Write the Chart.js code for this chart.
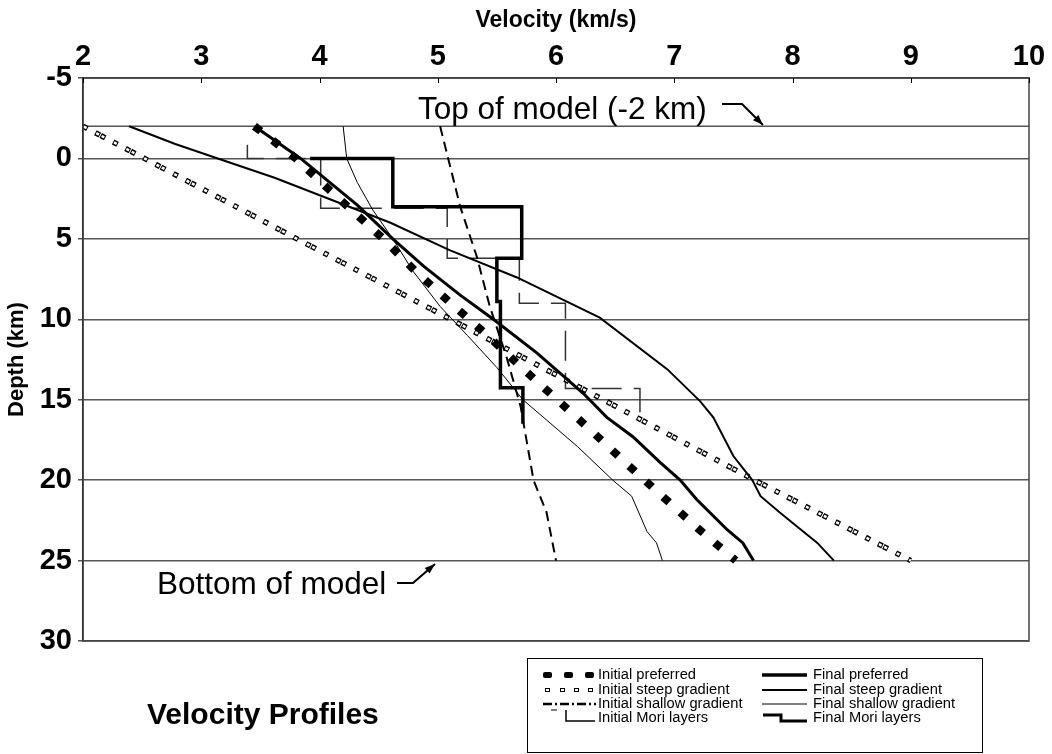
<!DOCTYPE html>
<html>
<head>
<meta charset="utf-8">
<title>Velocity Profiles</title>
<script src="https://cdn.jsdelivr.net/npm/chart.js@4.4.1/dist/chart.umd.min.js"></script>
<style>
  body { margin: 0; background: #fff; }
  canvas { display: block; }
</style>
</head>
<body>
<canvas id="profiles" width="1052" height="754"></canvas>
<script>
// depths in km (down), velocities in km/s (across)
const initPrefDepth = [-2, 0, 2, 5, 7, 9, 11, 13, 15, 17, 19, 21, 23, 25];
const initPrefVel   = [3.45, 3.80, 4.09, 4.54, 4.81, 5.11, 5.42, 5.71, 6.01, 6.31, 6.60, 6.90, 7.20, 7.52];

const initSteepDepth = [-2, 0, 5, 10, 15, 20, 25];
const initSteepVel   = [2.0, 2.52, 3.81, 5.11, 6.40, 7.68, 9.0];

const initShallowDepth = [-2, 3, 6.1, 9.2, 12.3, 15.4, 20, 22, 25];
const initShallowVel   = [5.02, 5.19, 5.33, 5.44, 5.58, 5.70, 5.81, 5.92, 6.0];

const initMoriDepth = [-0.85, 0, 0, 3.1, 3.1, 6.2, 6.2, 9.0, 9.0, 14.3, 14.3, 16.3];
const initMoriVel   = [3.39, 3.39, 4.01, 4.01, 5.08, 5.08, 5.69, 5.69, 6.08, 6.08, 6.71, 6.71];

const finalPrefDepth = [-2, 0, 2.9, 5, 6.7, 8.5, 10, 12.1, 14.6, 16.1, 17.3, 18.9, 20, 21.2, 23.1, 23.9, 25];
const finalPrefVel   = [3.45, 3.84, 4.32, 4.62, 4.88, 5.19, 5.47, 5.84, 6.23, 6.43, 6.65, 6.88, 7.05, 7.19, 7.45, 7.58, 7.67];

const finalSteepDepth = [-2, -0.9, 0, 1.2, 4, 5.7, 7.4, 9.9, 13.1, 15.1, 16.1, 18.5, 20, 21, 22, 23.9, 25];
const finalSteepVel   = [2.39, 2.78, 3.14, 3.62, 4.60, 5.10, 5.67, 6.37, 6.94, 7.22, 7.33, 7.50, 7.66, 7.73, 7.89, 8.21, 8.35];

const finalShallowDepth = [-2, 0, 1.5, 3.2, 5, 7, 9.2, 11, 13, 15, 17.9, 20, 21, 23.2, 23.9, 25];
const finalShallowVel   = [4.20, 4.23, 4.32, 4.45, 4.62, 4.79, 5.02, 5.25, 5.50, 5.72, 6.18, 6.48, 6.64, 6.77, 6.85, 6.90];

const finalMoriDepth = [0, 0, 3.0, 3.0, 6.2, 6.2, 8.9, 8.9, 14.25, 14.25, 16.5];
const finalMoriVel   = [3.92, 4.62, 4.62, 5.71, 5.71, 5.50, 5.50, 5.53, 5.53, 5.72, 5.72];

const modelTop = -2;
const velRange = [2, 10];
const depthRange = [-5, 30];

const legendLabels = [
  'Initial preferred', 'Initial steep gradient', 'Initial shallow gradient', 'Initial Mori layers',
  'Final preferred', 'Final steep gradient', 'Final shallow gradient', 'Final Mori layers'
];

const FONT = "'Liberation Sans', Arial, Helvetica, sans-serif";

function pts(vel, depth) {
  return vel.map((v, i) => ({x: v, y: depth[i]}));
}

function line(ctx, p, w, dash) {
  ctx.lineWidth = w;
  ctx.setLineDash(dash || []);
  ctx.beginPath();
  ctx.moveTo(p[0][0], p[0][1]);
  for (let i = 1; i < p.length; i++) ctx.lineTo(p[i][0], p[i][1]);
  ctx.stroke();
  ctx.setLineDash([]);
}

function arrow(ctx, p) {
  line(ctx, p, 2);
  const a = p[p.length - 2], b = p[p.length - 1];
  const ang = Math.atan2(b[1] - a[1], b[0] - a[0]);
  ctx.beginPath();
  ctx.moveTo(b[0], b[1]);
  ctx.lineTo(b[0] - 11 * Math.cos(ang - 0.35), b[1] - 11 * Math.sin(ang - 0.35));
  ctx.lineTo(b[0] - 11 * Math.cos(ang + 0.35), b[1] - 11 * Math.sin(ang + 0.35));
  ctx.closePath();
  ctx.fill();
}

const overlay = {
  id: 'overlay',
  afterDraw(chart) {
    const {ctx, chartArea: a, scales: {x}} = chart;
    ctx.save();
    ctx.fillStyle = '#000';

    // frame and inner tick marks on the velocity axis
    ctx.strokeStyle = '#444';
    ctx.lineWidth = 1.5;
    ctx.strokeRect(a.left, a.top, a.right - a.left, a.bottom - a.top);
    ctx.strokeStyle = '#000';
    x.ticks.forEach(t => {
      const px = Math.round(x.getPixelForValue(t.value)) + 0.5;
      line(ctx, [[px, a.top], [px, a.top + 5]], 1);
    });

    // annotations
    ctx.font = '31.5px ' + FONT;
    ctx.textBaseline = 'alphabetic';
    ctx.fillText('Top of model (-2 km)', 418, 119);
    arrow(ctx, [[722, 104], [742, 104], [763, 125]]);
    ctx.fillText('Bottom of model', 157, 594);
    arrow(ctx, [[397, 583], [413, 583], [435, 564]]);

    ctx.font = 'bold 30px ' + FONT;
    ctx.fillText('Velocity Profiles', 147, 724);

    // legend box
    ctx.lineWidth = 1;
    ctx.strokeRect(527.5, 658.5, 455, 94);
    const rows = [675, 690, 704, 718];
    ctx.font = '14.7px ' + FONT;
    ctx.textBaseline = 'middle';
    legendLabels.forEach((lab, i) => {
      const tx = i < 4 ? 598 : 813;
      ctx.fillText(lab, tx, rows[i % 4]);
    });
    // samples, column 1
    [543, 564, 585].forEach(px => {
      ctx.beginPath();
      ctx.roundRect(px, rows[0] - 3, 9, 6, 2);
      ctx.fill();
    });
    [545, 560, 574, 588].forEach(px => {
      ctx.lineWidth = 1;
      ctx.strokeRect(px + 0.5, rows[1] - 1.5, 4, 3);
    });
    line(ctx, [[543, rows[2]], [596, rows[2]]], 2.5, [9, 3, 2, 3]);
    line(ctx, [[551, rows[3] - 8], [557, rows[3] - 8]], 1);
    line(ctx, [[566, rows[3] - 8], [566, rows[3] + 3], [595, rows[3] + 3]], 1.5);
    // samples, column 2
    line(ctx, [[762, rows[0]], [807, rows[0]]], 3.5);
    line(ctx, [[762, rows[1]], [807, rows[1]]], 2);
    line(ctx, [[762, rows[2]], [807, rows[2]]], 1);
    line(ctx, [[763, rows[3] - 3], [781, rows[3] - 3], [781, rows[3] + 3], [807, rows[3] + 3]], 3);
    ctx.restore();
  }
};

const base = {showLine: true, pointRadius: 0, borderColor: '#000', tension: 0, fill: false};

new Chart(document.getElementById('profiles'), {
  type: 'scatter',
  data: {
    datasets: [
      Object.assign({}, base, {label: 'Final preferred', data: pts(finalPrefVel, finalPrefDepth), borderWidth: 3}),
      Object.assign({}, base, {label: 'Final steep gradient', data: pts(finalSteepVel, finalSteepDepth), borderWidth: 2}),
      Object.assign({}, base, {label: 'Final shallow gradient', data: pts(finalShallowVel, finalShallowDepth), borderWidth: 1}),
      Object.assign({}, base, {label: 'Final Mori layers', data: pts(finalMoriVel, finalMoriDepth), borderWidth: 3.5}),
      Object.assign({}, base, {label: 'Initial preferred', data: pts(initPrefVel, initPrefDepth), borderWidth: 8, borderDash: [8, 15]}),
      // white cores make the steep-gradient marks hollow
      Object.assign({}, base, {label: '', data: pts(initSteepVel, initSteepDepth), borderColor: '#fff', borderWidth: 2.5,
        borderDash: [3, 11, 3, 3, 3, 11], borderDashOffset: -1}),
      Object.assign({}, base, {label: 'Initial steep gradient', data: pts(initSteepVel, initSteepDepth), borderWidth: 5.5,
        borderDash: [5, 9, 5, 1, 5, 9]}),
      Object.assign({}, base, {label: 'Initial shallow gradient', data: pts(initShallowVel, initShallowDepth), borderWidth: 2, borderDash: [10, 6]}),
      Object.assign({}, base, {label: 'Initial Mori layers', data: pts(initMoriVel, initMoriDepth), borderWidth: 1.5,
        borderColor: '#333', borderDash: [30, 12]}),
      Object.assign({}, base, {label: 'model top', data: pts(velRange, [modelTop, modelTop]), borderWidth: 1.5, borderColor: '#555'})
    ]
  },
  options: {
    responsive: false,
    animation: false,
    devicePixelRatio: 1,
    layout: {padding: {left: 0, right: 23, top: 0, bottom: 113}},
    plugins: {legend: {display: false}, tooltip: {enabled: false}},
    scales: {
      x: {
        type: 'linear', position: 'top', min: velRange[0], max: velRange[1],
        afterFit: s => { s.height = 78; },
        grid: {display: false, tickLength: 0},
        border: {display: true, color: '#444', width: 1.5},
        ticks: {stepSize: 1, padding: 4, color: '#000', font: {family: FONT, size: 29, weight: 'bold'}},
        title: {display: true, text: 'Velocity (km/s)', color: '#000', padding: {top: 7, bottom: 0},
          font: {family: FONT, size: 23, weight: 'bold'}}
      },
      y: {
        type: 'linear', reverse: true, min: depthRange[0], max: depthRange[1],
        afterFit: s => { s.width = 83; },
        grid: {color: '#555', lineWidth: 1.5, tickLength: 5},
        border: {display: true, color: '#000', width: 1.5},
        ticks: {stepSize: 5, padding: 6, color: '#000', font: {family: FONT, size: 29, weight: 'bold'}},
        title: {display: true, text: 'Depth (km)', color: '#000', padding: {top: 4, bottom: 0},
          font: {family: FONT, size: 22, weight: 'bold'}}
      }
    }
  },
  plugins: [overlay]
});
</script>
</body>
</html>
